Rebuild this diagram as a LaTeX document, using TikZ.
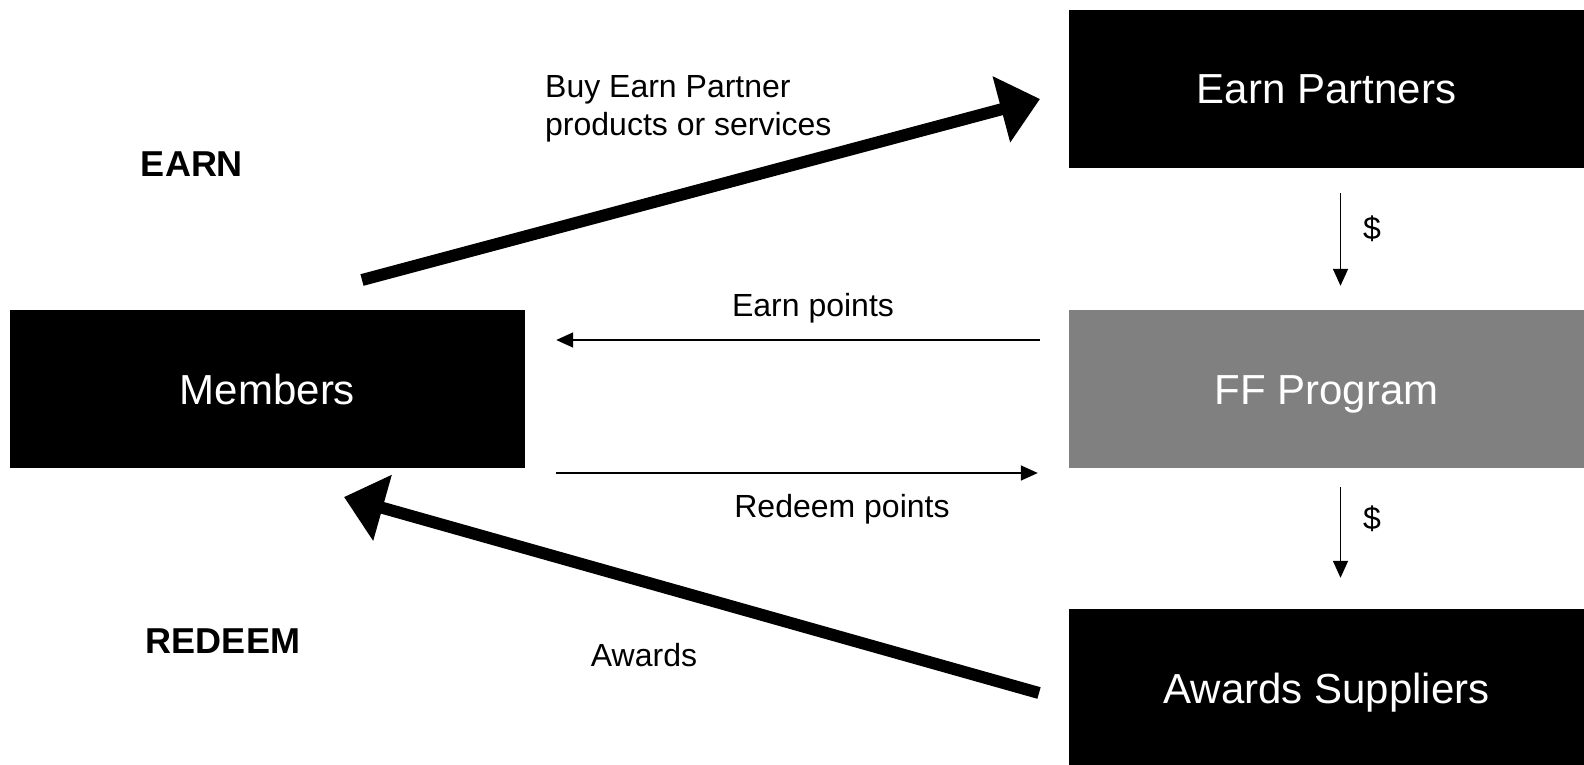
\documentclass[tikz,border=0pt]{standalone}
\usepackage{fontspec}
\setmainfont{Liberation Sans}
\usetikzlibrary{arrows.meta}
\definecolor{ffgray}{RGB}{128,128,128}
\tikzstyle{block} = [rectangle, minimum width = 515pt, minimum height = 158pt,
	inner sep = 0pt, text height = 30pt, text depth = 0pt,
	text = white, font = \fontsize{42}{50}\selectfont]
\tikzstyle{bigarrow} = [line width = 12pt, -{Triangle[length=40pt, width=66pt]}]
\tikzstyle{arrow} = [line width = 1.6pt, -{Triangle[length=17pt, width=15pt]}]
\tikzstyle{label} = [font = \fontsize{32}{38.4}\selectfont, inner sep = 0pt]
\tikzstyle{stage} = [font = \fontsize{36}{43}\selectfont\bfseries, inner sep = 0pt]

\begin{document}
\begin{tikzpicture}[x = 1pt, y = -1pt]
\useasboundingbox (0,0) rectangle (1584,765);

\node (ep) [block, fill = black] at (1326.5,89) {Earn Partners};
\node (ff) [block, fill = ffgray] at (1326.5,389) {FF Program};
\node (as) [block, fill = black] at (1326.5,688) {Awards Suppliers};
\node (mem) [block, fill = black] at (267.5,389) {Members};

\node (earn) [stage] at (192,164) {EARN};
\node (redeem) [stage] at (223,641) {REDEEM};

% thick arrows
\coordinate (buyS) at (362,280);
\coordinate (buyE) at (1040,99);
\coordinate (awS) at (1039,693);
\coordinate (awE) at (344,497);
\draw [bigarrow] (buyS) -- (buyE);
\draw [bigarrow] (awS) -- (awE);
\node (buy) [label, align = left, anchor = north west] at (545,75)
	{Buy Earn Partner\\products or services};
\node (aw) [label] at (644,655) {Awards};

% points
\draw [arrow, shorten < = 29pt, shorten > = 31pt]
	([yshift = 49pt]ff.west) -- ([yshift = 49pt]mem.east);
\draw [arrow, shorten < = 31pt, shorten > = 31pt]
	([yshift = -84pt]mem.east) -- ([yshift = -84pt]ff.west);
\node (ept) [label] at (813,308) {Earn points};
\node (rpt) [label] at (842,509) {Redeem points};

% money
\draw [arrow, shorten < = 25pt, shorten > = 24pt]
	([xshift = 14pt]ep.south) -- ([xshift = 14pt]ff.north);
\draw [arrow, shorten < = 19pt, shorten > = 31pt]
	([xshift = 14pt]ff.south) -- ([xshift = 14pt]as.north);
\node (d1) [label] at (1372,229) {\$};
\node (d2) [label] at (1372,519) {\$};
\end{tikzpicture}
\end{document}
